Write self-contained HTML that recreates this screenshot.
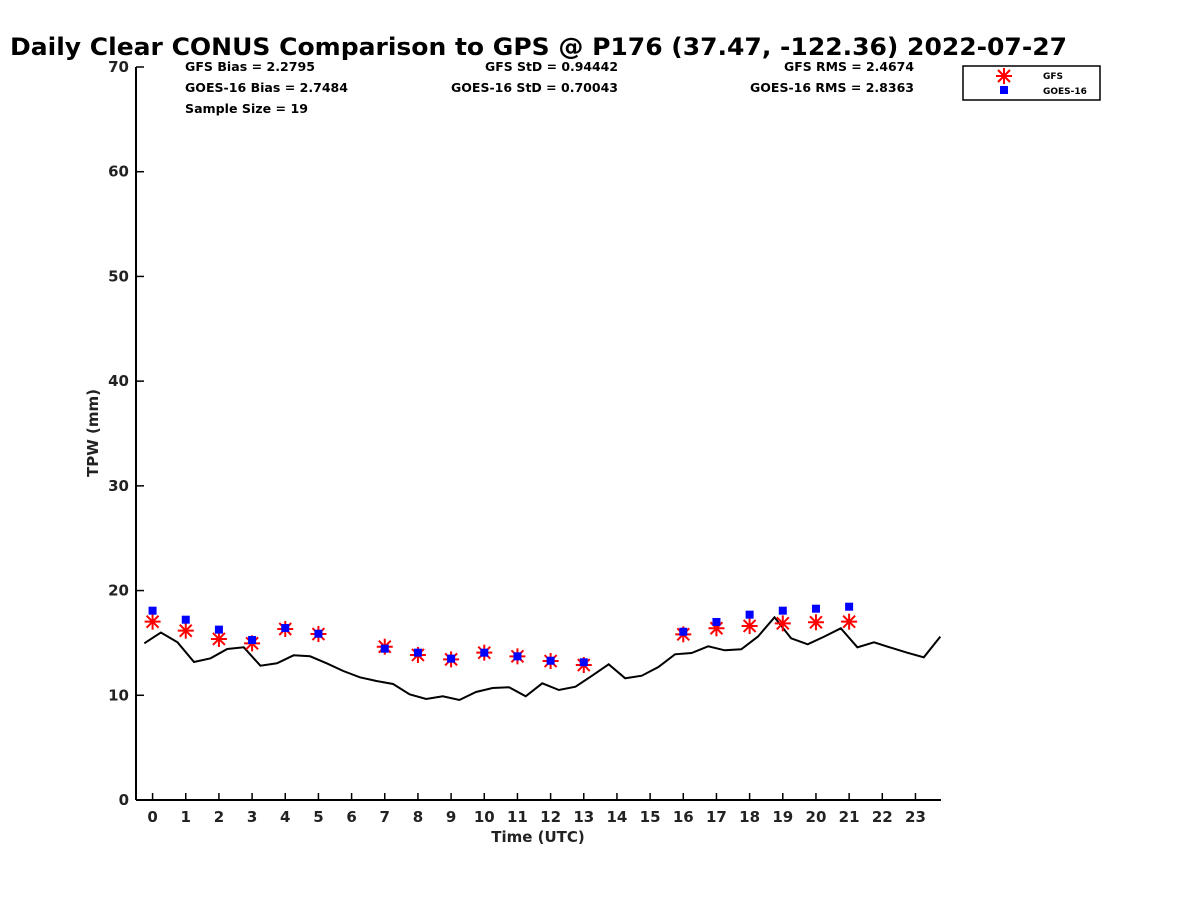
<!DOCTYPE html>
<html><head><meta charset="utf-8"><style>
body{margin:0;background:#fff;font-family:"Liberation Sans","DejaVu Sans",sans-serif}
svg text{font-family:"DejaVu Sans","Liberation Sans",sans-serif;font-weight:bold}
</style></head><body>
<svg id="c" width="1200" height="900">
<text x="10" y="55" font-size="24" textLength="1057" lengthAdjust="spacingAndGlyphs" fill="#000">Daily Clear CONUS Comparison to GPS @ P176 (37.47, -122.36) 2022-07-27</text>
<g font-size="12" fill="#000">
<text x="185" y="71" textLength="130" lengthAdjust="spacingAndGlyphs">GFS Bias = 2.2795</text>
<text x="185" y="92" textLength="163" lengthAdjust="spacingAndGlyphs">GOES-16 Bias = 2.7484</text>
<text x="185" y="113" textLength="123" lengthAdjust="spacingAndGlyphs">Sample Size = 19</text>
<text x="485" y="71" textLength="133" lengthAdjust="spacingAndGlyphs">GFS StD = 0.94442</text>
<text x="451" y="92" textLength="167" lengthAdjust="spacingAndGlyphs">GOES-16 StD = 0.70043</text>
<text x="784" y="71" textLength="130" lengthAdjust="spacingAndGlyphs">GFS RMS = 2.4674</text>
<text x="750" y="92" textLength="164" lengthAdjust="spacingAndGlyphs">GOES-16 RMS = 2.8363</text>
</g>
<g>
<rect x="963" y="66" width="137" height="34" fill="#fff" stroke="#000" stroke-width="1.5"/>
<g stroke="#f00" stroke-width="2">
<line x1="996" y1="76" x2="1012" y2="76"/><line x1="1004" y1="68" x2="1004" y2="84"/>
<line x1="998" y1="70" x2="1010" y2="82"/><line x1="998" y1="82" x2="1010" y2="70"/></g>
<rect x="1000" y="86" width="8" height="8" fill="#00f"/>
<text x="1043" y="79" font-size="9">GFS</text>
<text x="1043" y="94" font-size="9">GOES-16</text>
</g>
<g id="axes"></g>
<g id="marks"></g>
</svg>
<script>
const hours=[0,1,2,3,4,5,7,8,9,10,11,12,13,16,17,18,19,20,21];
const gfs=[17.03,16.17,15.38,14.96,16.33,15.85,14.64,13.85,13.43,14.07,13.72,13.27,12.89,15.82,16.4,16.62,16.87,16.97,17.03];
const goes=[18.08,17.22,16.27,15.28,16.43,15.88,14.45,14.07,13.5,14.07,13.72,13.3,13.15,16.07,17.0,17.7,18.08,18.27,18.46];
const gpsStart=-0.25, gpsStep=0.5;
const gps=[14.96,16.0,15.06,13.18,13.53,14.42,14.58,12.83,13.05,13.82,13.72,13.05,12.32,11.72,11.36,11.08,10.09,9.65,9.9,9.55,10.31,10.7,10.76,9.9,11.14,10.5,10.82,11.87,12.96,11.62,11.87,12.7,13.91,14.04,14.68,14.3,14.39,15.6,17.45,15.44,14.87,15.6,16.4,14.58,15.06,14.55,14.07,13.63,15.6];
const xTicks=[0,1,2,3,4,5,6,7,8,9,10,11,12,13,14,15,16,17,18,19,20,21,22,23];
const yTicks=[0,10,20,30,40,50,60,70];
const NS='http://www.w3.org/2000/svg';
const X0=136,X1=941,Y0=800,Y1=67,xmin=-0.5,xmax=23.77,ymin=0,ymax=70;
const sx=v=>X0+(v-xmin)/(xmax-xmin)*(X1-X0);
const sy=v=>Y0-(v-ymin)/(ymax-ymin)*(Y0-Y1);
function mk(tag,attrs,parent){const e=document.createElementNS(NS,tag);for(const k in attrs)e.setAttribute(k,attrs[k]);parent.appendChild(e);return e;}
const ax=document.getElementById('axes'),mg=document.getElementById('marks');
let l=mk('line',{x1:X0,y1:Y0,x2:X1,y2:Y0,stroke:'#000','stroke-width':2},ax);


l=mk('line',{x1:X0,y1:Y0,x2:X0,y2:Y1,stroke:'#000','stroke-width':2},ax);


xTicks.forEach(t=>{const x=sx(t);
 mk('line',{x1:x,y1:Y0,x2:x,y2:Y0-7,stroke:'#000','stroke-width':1.5},ax);
 const tx=mk('text',{x:x,y:Y0+22,'text-anchor':'middle','font-size':15,fill:'#222'},ax);tx.textContent=t;
 
 });
yTicks.forEach(t=>{const y=sy(t);
 mk('line',{x1:X0,y1:y,x2:X0+8,y2:y,stroke:'#000','stroke-width':1.5},ax);
 const tx=mk('text',{x:X0-7,y:y+5,'text-anchor':'end','font-size':15,fill:'#222'},ax);tx.textContent=t;
 
 });
let t=mk('text',{x:538,y:842,'text-anchor':'middle','font-size':15,fill:'#222'},ax);t.textContent='Time (UTC)';


t=mk('text',{x:98,y:433,'text-anchor':'middle','font-size':15,fill:'#222',transform:'rotate(-90 98 433)'},ax);t.textContent='TPW (mm)';


const pts=gps.map((v,i)=>sx(gpsStart+i*gpsStep).toFixed(1)+','+sy(v).toFixed(1)).join(' ');
const pl=mk('polyline',{points:pts,fill:'none',stroke:'#000','stroke-width':2},mg);


hours.forEach((h,i)=>{const x=sx(h),y=sy(gfs[i]);
 const g=mk('g',{stroke:'#f00','stroke-width':2},mg);
 
 
 mk('line',{x1:x-8,y1:y,x2:x+8,y2:y},g);mk('line',{x1:x,y1:y-8,x2:x,y2:y+8},g);
 mk('line',{x1:x-6,y1:y-6,x2:x+6,y2:y+6},g);mk('line',{x1:x-6,y1:y+6,x2:x+6,y2:y-6},g);});
hours.forEach((h,i)=>{const r=mk('rect',{x:sx(h)-4,y:sy(goes[i])-4,width:8,height:8,fill:'#00f'},mg);
 
 });
</script>
</body></html>
